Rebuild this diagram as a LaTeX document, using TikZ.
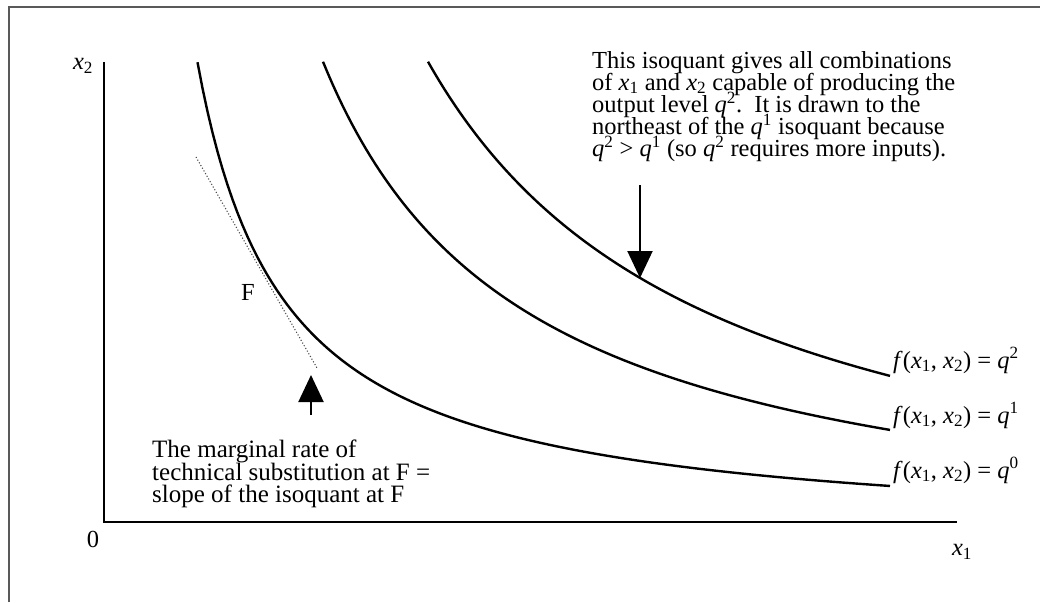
\documentclass[tikz,border=0pt]{standalone}
\usepackage{fontspec}
\setmainfont{Liberation Serif}
\usetikzlibrary{arrows.meta}
\newcommand\vx[1]{\textit{x}\textsubscript{#1}}
\newcommand\vq[1]{\textit{q}\textsuperscript{#1}}
\newcommand\notefont{\fontsize{24.5}{22}\selectfont\lineskiplimit=-30pt\lineskip=0pt\relax}
\newcommand\lowfont{\fontsize{25}{22.5}\selectfont\lineskiplimit=-30pt\lineskip=0pt\relax}
\begin{document}
\begin{tikzpicture}[x=1pt,y=-1pt,
  txt/.style={font=\notefont, inner sep=0pt, align=left},
  lowtxt/.style={font=\lowfont, inner sep=0pt, align=left},
  lbl/.style={font=\notefont, inner sep=0pt},
  isoq/.style={line width=2.4pt},
  axisline/.style={line width=2.6pt},
  pointer/.style={line width=2pt, -{Triangle[length=27pt,width=25pt]}},
  tangent/.style={dotted, line width=1.1pt, black!70},
  framecol/.style={line width=2pt, black!65}]
\useasboundingbox (0,0) rectangle (1046,602);
% frame
\coordinate (fb) at (9,602);
\coordinate (fc) at (9,7);
\coordinate (fr) at (1040,7);
\draw[framecol] (fb) -- (fc) -- (fr);
% axes
\coordinate (O) at (104,522);
\coordinate (ytop) at (104,62);
\coordinate (xmid) at (905,522);
\coordinate (xend) at (957,522);
\draw[axisline] (ytop) -- (O) -- (xmid);
\draw[line width=1.4pt] (xmid) -- (xend);
\node[lbl] (x2lab) at (83,66) {\vx2};
\node[lbl] (zero) at (93,539) {0};
\node[lbl] (x1lab) at (962,552) {\vx1};
% isoquants
\draw[isoq] plot[domain=93.5:786, samples=140] ({104+\x},{522-(-17+412.96/((\x-6.84)*0.01))});
\draw[isoq] plot[domain=219:786, samples=120] ({104+\x},{522-(-40+1017.00/((\x-15.6)*0.01))});
\draw[isoq] plot[domain=324:786, samples=120] ({104+\x},{522-(-50+1470.84/((\x-35.6)*0.01))});
\node[lbl, anchor=base west] (lq2) at (893,368) {\textit{f}(\vx1, \vx2) = \vq2};
\node[lbl, anchor=base west] (lq1) at (893,423) {\textit{f}(\vx1, \vx2) = \vq1};
\node[lbl, anchor=base west] (lq0) at (893,478) {\textit{f}(\vx1, \vx2) = \vq0};
% tangent at F
\coordinate (tA) at (196,157);
\coordinate (tB) at (317,368);
\draw[tangent] (tA) -- (tB);
\node[lbl] (F) at (248,292) {F};
% top-right annotation
\node[txt, anchor=north west] (note2) at (592,51) {This isoquant gives all combinations\\
of \vx1 and \vx2 capable of producing the\\
output level \vq2.\ \ It is drawn to the\\
northeast of the \vq1 isoquant because\\
\vq2 > \vq1 (so \vq2 requires more inputs).};
\coordinate (a2s) at (640,185);
\coordinate (a2t) at (640,278);
\draw[pointer] (a2s) -- (a2t);
% bottom-left annotation
\node[lowtxt, anchor=north west] (note1) at (152,440) {The marginal rate of\\
technical substitution at F =\\
slope of the isoquant at F};
\coordinate (a1s) at (311,415);
\coordinate (a1t) at (311,375);
\draw[pointer] (a1s) -- (a1t);
\end{tikzpicture}
\end{document}
